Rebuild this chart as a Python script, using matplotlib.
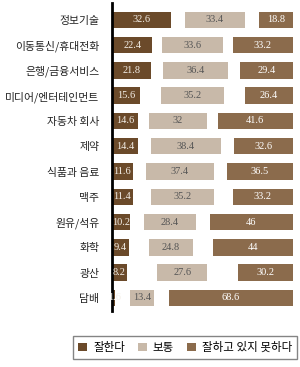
import numpy as np
import matplotlib.pyplot as plt
from matplotlib.patches import Patch

categories = ['정보기술', '이동통신/휴대전화', '은행/금융서비스', '미디어/엔터테인먼트',
              '자동차 회사', '제약', '식품과 음료', '맥주', '원유/석유', '화학', '광산', '담배']
good = [32.6, 22.4, 21.8, 15.6, 14.6, 14.4, 11.6, 11.4, 10.2, 9.4, 8.2, 1.6]
normal = [33.4, 33.6, 36.4, 35.2, 32, 38.4, 37.4, 35.2, 28.4, 24.8, 27.6, 13.4]
bad = [18.8, 33.2, 29.4, 26.4, 41.6, 32.6, 36.5, 33.2, 46, 44, 30.2, 68.6]
legend_labels = ['잘한다', '보통', '잘하고 있지 못하다']

c_good = '#6b4a2a'
c_norm = '#c8b9a9'
c_bad = '#8b6b4c'

good = np.array(good)
normal = np.array(normal)
bad = np.array(bad)
y = np.arange(len(categories))

# 세번째 막대는 오른쪽 끝(100)에 맞추고, 보통은 그 사이 가운데
bad_left = 100 - bad
norm_left = (good + bad_left) / 2 - normal / 2

fig = plt.figure(figsize=(3.0, 3.67), dpi=100)
ax = fig.add_axes([0.373, 0.153, 0.603, 0.839])

h = 0.65
ax.barh(y, good, left=0, height=h, color=c_good)
ax.barh(y, normal, left=norm_left, height=h, color=c_norm)
ax.barh(y, bad, left=bad_left, height=h, color=c_bad)

num_font = dict(family='Liberation Serif', fontsize=7.5)
for i in range(len(y)):
    ax.text(max(good[i] / 2, 1.6), y[i], f'{good[i]:g}', ha='center', va='center', color='#f4efe8', **num_font)
    ax.text(norm_left[i] + normal[i] / 2, y[i], f'{normal[i]:g}', ha='center', va='center', color='#555555', **num_font)
    ax.text(bad_left[i] + bad[i] / 2, y[i], f'{bad[i]:g}', ha='center', va='center', color='white', **num_font)

ax.set_xlim(0, 100)
ax.set_ylim(11.51, -0.67)
ax.set_yticks(y)
ax.set_yticklabels(categories, family=['Noto Sans CJK KR', 'DejaVu Sans'], fontsize=7.8, color='#222222')
ax.tick_params(axis='y', length=0, pad=9)
ax.set_xticks([])
for s in ['top', 'right', 'bottom']:
    ax.spines[s].set_visible(False)
ax.spines['left'].set_linewidth(2)
ax.spines['left'].set_color('black')

handles = [Patch(facecolor=c_good), Patch(facecolor=c_norm), Patch(facecolor=c_bad)]
leg = fig.legend(handles, legend_labels, loc='center', ncol=3,
                 bbox_to_anchor=(0.617, 0.053), frameon=True, fancybox=False,
                 prop={'family': ['Noto Sans CJK KR', 'DejaVu Sans'], 'size': 8.3},
                 handlelength=0.8, handleheight=0.8, handletextpad=0.5, columnspacing=1.1,
                 borderpad=0.45)
leg.get_frame().set_edgecolor('#666666')
leg.get_frame().set_linewidth(1)

fig.savefig('out.png', dpi=100)
